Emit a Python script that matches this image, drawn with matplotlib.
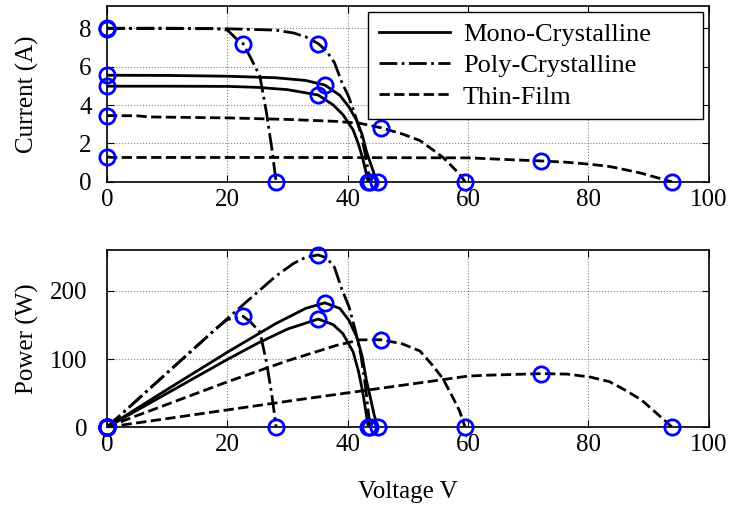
import numpy as np
import matplotlib.pyplot as plt

plt.rcParams['font.family'] = ['Liberation Serif', 'DejaVu Serif']
plt.rcParams['font.size'] = 18

# I-V data (V in volts, I in amps)
mono1_v = [0, 10, 20, 28, 33, 36.2, 38.7, 40.2, 41.5, 42.4, 43.1, 43.8, 44.4, 45.0]
mono1_i = [5.55, 5.54, 5.5, 5.42, 5.28, 5.04, 4.5, 3.9, 3.19, 2.45, 1.6, 0.95, 0.4, 0]

mono2_v = [0, 10, 20, 25, 30, 35.1, 37.6, 39.2, 40.9, 41.8, 42.5, 43.0, 43.4]
mono2_i = [4.98, 4.98, 4.97, 4.92, 4.8, 4.52, 4.0, 3.5, 2.7, 1.95, 1.2, 0.55, 0]

poly1_v = [0, 10, 20, 28, 31, 33, 35.1, 36.5, 37.8, 39, 40.2, 41.2, 42.2, 43.0, 43.7]
poly1_i = [7.98, 7.98, 7.97, 7.9, 7.75, 7.55, 7.2, 6.8, 6.2, 5.2, 4.4, 3.5, 2.5, 1.3, 0]

poly2_v = [0, 10, 18, 20, 21.5, 22.6, 23.8, 25.4, 26.5, 27.4, 28.1]
poly2_i = [8.0, 8.0, 7.98, 7.9, 7.45, 7.2, 6.5, 5.5, 3.6, 1.7, 0]

thin1_v = [0, 5, 7, 20, 30, 38, 42, 45.5, 49, 52, 54, 55.8, 57.5, 58.6, 59.5]
thin1_i = [3.45, 3.44, 3.38, 3.33, 3.25, 3.15, 3.05, 2.82, 2.5, 2.15, 1.7, 1.28, 0.75, 0.4, 0]

thin2_v = [0, 1, 30, 60, 63, 68, 72.1, 76.4, 80.2, 83.5, 86.3, 88.8, 90.7, 92.4, 93.9]
thin2_i = [1.3, 1.27, 1.27, 1.25, 1.21, 1.14, 1.09, 1.02, 0.92, 0.8, 0.62, 0.45, 0.28, 0.13, 0]

# key points: short circuit current, max power point, open circuit voltage
isc = [5.55, 4.98, 7.98, 8.0, 3.45, 1.3]
vmp = [36.2, 35.1, 35.1, 22.6, 45.5, 72.1]
imp = [5.04, 4.52, 7.2, 7.2, 2.82, 1.09]
voc = [45.0, 43.4, 43.7, 28.1, 59.5, 93.9]

curves = [(mono1_v, mono1_i, '-'), (mono2_v, mono2_i, '-'),
          (poly1_v, poly1_i, '-.'), (poly2_v, poly2_i, '-.'),
          (thin1_v, thin1_i, '--'), (thin2_v, thin2_i, '--')]
labels = ['Mono-Crystalline', None, 'Poly-Crystalline', None, 'Thin-Film', None]

fig = plt.figure(figsize=(7.33, 5.08), dpi=100)
ax1 = fig.add_axes([0.146, 0.642, 0.821, 0.346])
ax2 = fig.add_axes([0.146, 0.159, 0.821, 0.349])

mk = dict(marker='o', ms=11, mfc='none', mec='#0000ff', mew=2, ls='none', clip_on=False, zorder=5)

for k, (v, i, ls) in enumerate(curves):
    v = np.array(v)
    i = np.array(i)
    ax1.plot(v, i, ls, color='k', lw=2, label=labels[k])
    ax2.plot(v, v * i, ls, color='k', lw=2)
    ax1.plot([0, vmp[k], voc[k]], [isc[k], imp[k], 0], **mk)
    ax2.plot([0, vmp[k], voc[k]], [0, vmp[k] * imp[k], 0], **mk)

for ax in (ax1, ax2):
    ax.set_xlim(0, 100)
    ax.set_xticks(np.arange(0, 101, 20))
    ax.grid(True, ls=':', color='gray', lw=0.8)
    ax.tick_params(direction='in', top=True, right=True, length=5)
    ax.tick_params(axis='x', pad=5)
    for s in ax.spines.values():
        s.set_linewidth(1.2)
ax1.tick_params(axis='y', pad=11)
ax2.tick_params(axis='y', pad=14)

ax1.set_ylim(0, 9.15)
ax1.set_yticks(np.arange(0, 9, 2))
ax2.set_ylim(0, 260)
ax2.set_yticks([0, 100, 200])

ax1.set_ylabel('Current (A)')
ax2.set_ylabel('Power (W)')
ax1.yaxis.set_label_coords(-0.113, 0.5)
ax2.yaxis.set_label_coords(-0.113, 0.5)
ax2.set_xlabel('Voltage V', labelpad=18)

leg = ax1.legend(loc='upper right', bbox_to_anchor=(0.4336, 0, 0.5564, 0.9676), mode='expand',
                 handlelength=2.7, handletextpad=0.5, fancybox=False, framealpha=1,
                 edgecolor='k', borderaxespad=0, labelspacing=0.3, fontsize=19)
leg.get_frame().set_linewidth(1.0)

fig.savefig('out.png', dpi=100)
